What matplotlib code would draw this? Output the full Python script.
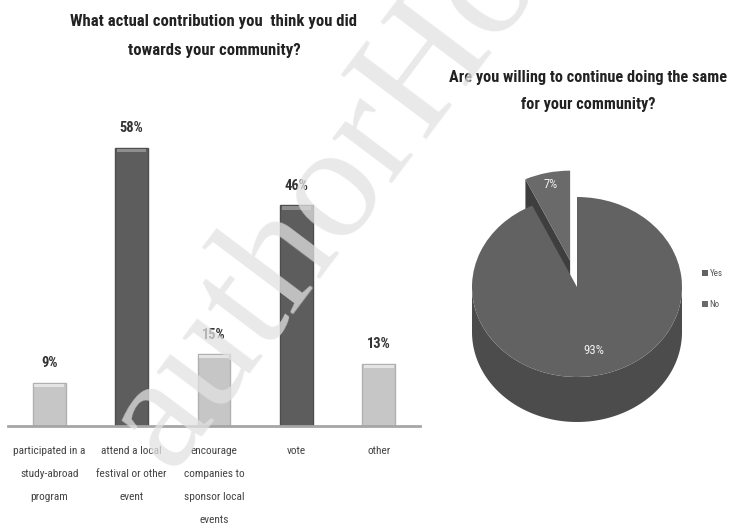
import matplotlib
matplotlib.use("Agg")
import matplotlib.pyplot as plt
import numpy as np
from matplotlib.patches import Polygon
from matplotlib import font_manager as fm

# ---- data ----
bar_categories = ["participated in a\nstudy-abroad\nprogram",
                  "attend a local\nfestival or other\nevent",
                  "encourage\ncompanies to\nsponsor local\nevents",
                  "vote",
                  "other"]
bar_values = [9, 58, 15, 46, 13]
bar_shades = ["light", "dark", "light", "dark", "light"]
bar_title = "What actual contribution you  think you did\ntowards your community?"

pie_labels = ["Yes", "No"]
pie_values = [93, 7]
pie_title = "Are you willing to continue doing the same\nfor your community?"

watermark = "authorHouse"

# pick the narrowest available sans family
available = {f.name for f in fm.fontManager.ttflist}
family = "DejaVu Sans"
for cand in ["Liberation Sans Narrow", "Roboto Condensed", "Open Sans Condensed",
             "Noto Sans Condensed", "Roboto", "Liberation Sans"]:
    if cand in available:
        family = cand
        break
plt.rcParams['font.family'] = [family, 'DejaVu Sans']

W, H = 735, 528
fig = plt.figure(figsize=(W / 100, H / 100), dpi=100)
fig.patch.set_facecolor("white")
renderer = fig.canvas.get_renderer()


def fit_width(txt, target):
    for _ in range(4):
        w = txt.get_window_extent(renderer).width
        if w <= 0:
            break
        txt.set_fontsize(txt.get_fontsize() * target / w)
    return txt.get_fontsize()


def px_axes(x0, y0, x1, y1):
    return fig.add_axes([x0 / W, 1 - y1 / H, (x1 - x0) / W, (y1 - y0) / H])


# ---- bar chart ----
ax = px_axes(8, 138, 420, 426)
x = np.arange(len(bar_values))
fill = {"light": "#c6c6c6", "dark": "#5d5d5d"}
edge = {"light": "#b0b0b0", "dark": "#4e4e4e"}
top = {"light": "#e4e4e4", "dark": "#8e8e8e"}
bw = 0.4

probe = fig.text(0, 0, "58%", fontsize=9, fontweight="bold")
pct_fs = fit_width(probe, 24)
probe.remove()

for xi, v, s in zip(x, bar_values, bar_shades):
    ax.bar(xi, v, width=bw, color=fill[s], edgecolor=edge[s], linewidth=1.0, zorder=2)
    ax.bar(xi, 0.7, bottom=v - 0.9, width=bw * 0.9, color=top[s], linewidth=0, zorder=3)
    ax.text(xi, v + 2.6, f"{v}%", ha="center", va="bottom", fontsize=pct_fs,
            fontweight="bold", color="#333333")
ax.set_xlim(-0.5, 4.5)
ax.set_ylim(0, 60)
for sp in ["top", "left", "right"]:
    ax.spines[sp].set_visible(False)
ax.spines["bottom"].set_color("#a6a6a6")
ax.spines["bottom"].set_linewidth(2)
ax.set_yticks([])

probe = fig.text(0, 0, "participated in a", fontsize=9)
cat_fs = fit_width(probe, 72)
probe.remove()
ax.set_xticks(x)
ax.set_xticklabels(bar_categories, fontsize=cat_fs, color="#444444",
                   linespacing=2.6, va="top")
ax.tick_params(axis="x", length=0, pad=14.5)
ax.set_facecolor("none")

t1 = fig.text(214 / W, 1 - 36 / H, bar_title, ha="center", va="center", fontsize=12,
              fontweight="bold", color="#222222")
probe = fig.text(0, 0, bar_title.split("\n")[0], fontsize=12, fontweight="bold")
tfs = fit_width(probe, 287)
probe.remove()
t1.set_fontsize(tfs)
t1.set_linespacing(2.1)

# ---- 3D-ish pie chart ----
pax = px_axes(460, 150, 700, 440)
cx_px, cy_px, rx, ry = 577, 287, 105, 90
depth = 0.5
explode = [0, 0.3]
top_cols = ["#626262", "#6a6a6a"]
wedges, texts, autotexts = pax.pie(pie_values, startangle=90, counterclock=False,
                                   explode=explode, colors=top_cols,
                                   autopct="%1.0f%%", pctdistance=0.72,
                                   wedgeprops=dict(linewidth=0),
                                   textprops=dict(color="#f0f0f0", fontsize=9))
pax.set_aspect("auto")
pax.set_xlim(-(cx_px - 460) / rx, (700 - cx_px) / rx)
pax.set_ylim(-(440 - cy_px) / ry, (cy_px - 150) / ry)

t = np.linspace(np.pi, 2 * np.pi, 200)
front = np.column_stack([np.cos(t), np.sin(t)])
side = np.vstack([front, (front - [0, depth])[::-1]])
pax.add_patch(Polygon(side, closed=True, facecolor="#4c4c4c", edgecolor="none", zorder=1))

w_no = wedges[1]
th1, th2 = np.deg2rad(w_no.theta1), np.deg2rad(w_no.theta2)
mid = (th1 + th2) / 2
off = np.array([np.cos(mid), np.sin(mid)]) * explode[1]
ang = max(th1, th2)
outer = off + [np.cos(ang), np.sin(ang)]
face = np.array([off, outer, outer - [0, depth], off - [0, depth]])
pax.add_patch(Polygon(face, closed=True, facecolor="#3e3e3e", edgecolor="none", zorder=0.5))
w_no.set_zorder(0.8)
wedges[0].set_zorder(2)
for a in autotexts:
    a.set_zorder(5)
fit_width(autotexts[0], 21)
autotexts[1].set_position(tuple(off + np.array([np.cos(mid), np.sin(mid)]) * 0.87))
fit_width(autotexts[1], 14)

pax.legend(wedges, pie_labels, loc="center left",
           bbox_to_anchor=(694 / W, 1 - 289 / H), bbox_transform=fig.transFigure,
           frameon=False, fontsize=6.5, handlelength=0.6, handleheight=0.6,
           handletextpad=0.2, labelspacing=2.4, labelcolor="#555555")

t2 = fig.text(588 / W, 1 - 91 / H, pie_title, ha="center", va="center", fontsize=12,
              fontweight="bold", color="#222222")
probe = fig.text(0, 0, pie_title.split("\n")[0], fontsize=12, fontweight="bold")
tfs2 = fit_width(probe, 278)
probe.remove()
t2.set_fontsize(tfs2)
t2.set_linespacing(2.0)

# ---- watermark ----
fig.text(170 / W, 1 - 472 / H, watermark, ha="left", va="baseline",
         rotation=53, rotation_mode="anchor", fontsize=118,
         family="Liberation Serif", color="#e2e2e2", alpha=0.75, zorder=10)

fig.savefig("out.png", dpi=100, facecolor="white")
